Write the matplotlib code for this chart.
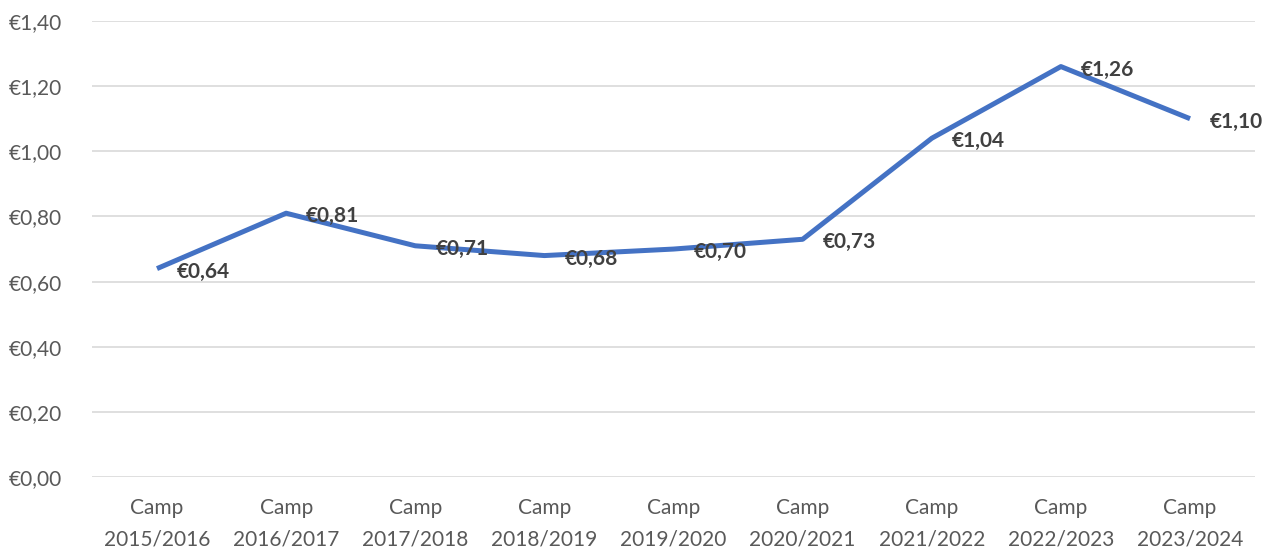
import matplotlib.pyplot as plt
from matplotlib.ticker import FuncFormatter, MultipleLocator

# data
campaigns = ["Camp\n2015/2016", "Camp\n2016/2017", "Camp\n2017/2018", "Camp\n2018/2019",
             "Camp\n2019/2020", "Camp\n2020/2021", "Camp\n2021/2022", "Camp\n2022/2023",
             "Camp\n2023/2024"]
prices = [0.64, 0.81, 0.71, 0.68, 0.70, 0.73, 1.04, 1.26, 1.10]

plt.rcParams["font.family"] = ["Lato", "DejaVu Sans"]


def euro(v, pos=None):
    return "€" + f"{v:.2f}".replace(".", ",")


fig = plt.figure(figsize=(12.75, 5.51), dpi=100)
ax = fig.add_axes([0.0725, 0.134, 0.9115, 0.828])

x = list(range(len(prices)))
ax.plot(x, prices, color="#4472C4", linewidth=3.6, solid_capstyle="butt", zorder=3)

for xi, v in zip(x, prices):
    ax.annotate(euro(v), (xi, v), xytext=(20, -3), textcoords="offset pixels",
                ha="left", va="center", fontsize=15, fontweight="bold",
                color="#404040", zorder=4)

ax.set_xlim(-0.5, len(prices) - 0.5)
ax.set_ylim(0, 1.4)
ax.yaxis.set_major_locator(MultipleLocator(0.2))
ax.yaxis.set_major_formatter(FuncFormatter(euro))
ax.set_xticks(x)
ax.set_xticklabels(campaigns, linespacing=1.75)

ax.grid(axis="y", color="#d9d9d9", linewidth=1.2)
ax.set_axisbelow(True)
for s in ["top", "right", "left", "bottom"]:
    ax.spines[s].set_visible(False)
ax.tick_params(axis="both", length=0, labelsize=15, labelcolor="#595959")
ax.tick_params(axis="y", pad=22)
ax.tick_params(axis="x", pad=15)

fig.savefig("out.png", dpi=100)
